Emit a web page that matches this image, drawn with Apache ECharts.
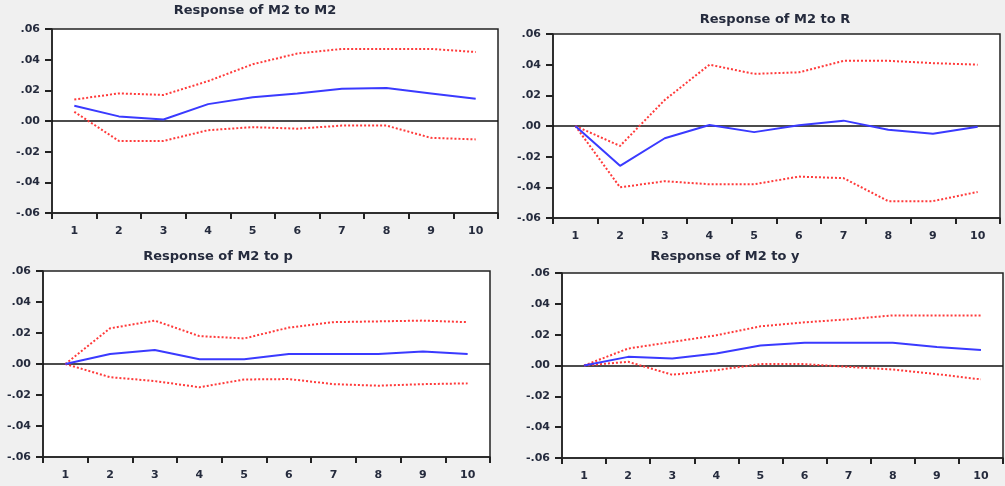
<!DOCTYPE html>
<html>
<head>
<meta charset="utf-8">
<script src="https://cdn.jsdelivr.net/npm/echarts@6/dist/echarts.min.js"></script>
<style>
html,body{margin:0;padding:0;background:#f0f0f0;}
#main{width:1005px;height:486px;}
</style>
</head>
<body>
<div id="main"></div>
<script>
// Data
var periods = ['1','2','3','4','5','6','7','8','9','10'];
var titles = ['Response of M2 to M2','Response of M2 to R','Response of M2 to p','Response of M2 to y'];

var m2Resp   = [0.010, 0.003, 0.001, 0.011, 0.0155, 0.018, 0.021, 0.0215, 0.018, 0.0145];
var m2Upper  = [0.014, 0.018, 0.017, 0.026, 0.037, 0.044, 0.047, 0.047, 0.047, 0.045];
var m2Lower  = [0.006, -0.013, -0.013, -0.006, -0.004, -0.005, -0.003, -0.003, -0.011, -0.012];

var rResp    = [0.000, -0.026, -0.008, 0.0007, -0.004, 0.0005, 0.0035, -0.0025, -0.005, -0.0005];
var rUpper   = [0.000, -0.013, 0.017, 0.040, 0.034, 0.035, 0.0425, 0.0425, 0.041, 0.040];
var rLower   = [0.000, -0.040, -0.036, -0.038, -0.038, -0.033, -0.034, -0.049, -0.049, -0.043];

var pResp    = [0.000, 0.0065, 0.009, 0.003, 0.003, 0.0065, 0.0065, 0.0065, 0.008, 0.0065];
var pUpper   = [0.000, 0.023, 0.028, 0.018, 0.0165, 0.0235, 0.027, 0.0275, 0.028, 0.027];
var pLower   = [0.000, -0.0085, -0.011, -0.015, -0.010, -0.0097, -0.013, -0.014, -0.013, -0.0125];

var yResp    = [0.000, 0.0056, 0.0045, 0.0078, 0.013, 0.0147, 0.0147, 0.0147, 0.012, 0.010];
var yUpper   = [0.000, 0.011, 0.0153, 0.0196, 0.0254, 0.028, 0.030, 0.0325, 0.0325, 0.0325];
var yLower   = [0.000, 0.0024, -0.006, -0.003, 0.0009, 0.0009, -0.0009, -0.0026, -0.0056, -0.009];

var yMin = -0.06, yMax = 0.06, yStep = 0.02;

var panels = [
  {resp: m2Resp, up: m2Upper, lo: m2Lower},
  {resp: rResp, up: rUpper, lo: rLower},
  {resp: pResp, up: pUpper, lo: pLower},
  {resp: yResp, up: yUpper, lo: yLower}
];

// Layout (positions only)
var grids = [
  {left: 52, top: 29, width: 446, height: 184},
  {left: 553, top: 34, width: 447, height: 184},
  {left: 43, top: 271, width: 447, height: 186},
  {left: 562, top: 273, width: 441, height: 185}
];
var titlePos = [
  {x: 255, y: 12}, {x: 775, y: 21}, {x: 218, y: 258}, {x: 725, y: 258}
];

var textColor = '#252b3d';
var fontFam = 'DejaVu Sans';

function fmt(v){
  v = Math.round(v*100)/100;
  var s = Math.abs(v).toFixed(2).replace(/^0/, '');
  return (v < 0 ? '-' : '') + s;
}

var option = {
  backgroundColor: '#f0f0f0',
  animation: false,
  title: [], grid: [], xAxis: [], yAxis: [], series: []
};

for (var i = 0; i < 4; i++) {
  var g = grids[i];
  option.title.push({
    text: titles[i],
    left: titlePos[i].x, top: titlePos[i].y - 8, textAlign: 'center',
    padding: 0,
    textStyle: {fontFamily: fontFam, fontWeight: 'bold', fontSize: 13, color: textColor}
  });
  option.grid.push({
    left: g.left, top: g.top, width: g.width, height: g.height,
    show: true, backgroundColor: '#ffffff', borderColor: '#222', borderWidth: 1.5
  });
  option.xAxis.push({
    type: 'category', gridIndex: i, data: periods, boundaryGap: true,
    axisLine: {show: true, onZero: false, lineStyle: {color: '#222', width: 1.5}},
    axisTick: {show: true, alignWithLabel: false, length: 6, lineStyle: {color: '#222', width: 2}},
    axisLabel: {margin: 13, fontFamily: fontFam, fontWeight: 'bold', fontSize: 11, color: textColor},
    splitLine: {show: false}
  });
  option.yAxis.push({
    type: 'value', gridIndex: i, min: yMin, max: yMax, interval: yStep,
    axisLine: {show: true, lineStyle: {color: '#222', width: 1.5}},
    axisTick: {show: true, length: 7, lineStyle: {color: '#222', width: 2}},
    axisLabel: {margin: 12, formatter: fmt, fontFamily: fontFam, fontWeight: 'bold', fontSize: 11, color: textColor},
    splitLine: {show: false}
  });
  var p = panels[i];
  option.series.push({
    type: 'line', xAxisIndex: i, yAxisIndex: i, data: p.up, symbol: 'none',
    lineStyle: {color: '#ff3a3a', width: 2, type: [2, 2]}, z: 3
  });
  option.series.push({
    type: 'line', xAxisIndex: i, yAxisIndex: i, data: p.lo, symbol: 'none',
    lineStyle: {color: '#ff3a3a', width: 2, type: [2, 2]}, z: 3
  });
  option.series.push({
    type: 'line', xAxisIndex: i, yAxisIndex: i, data: p.resp, symbol: 'none',
    lineStyle: {color: '#3a3aff', width: 2}, z: 4,
    markLine: {
      silent: true, symbol: 'none', label: {show: false},
      lineStyle: {color: '#111', width: 1.5, type: 'solid'},
      data: [{yAxis: 0}], z: 2
    }
  });
}

var chart = echarts.init(document.getElementById('main'), null, {renderer: 'canvas'});
chart.setOption(option);
</script>
</body>
</html>
